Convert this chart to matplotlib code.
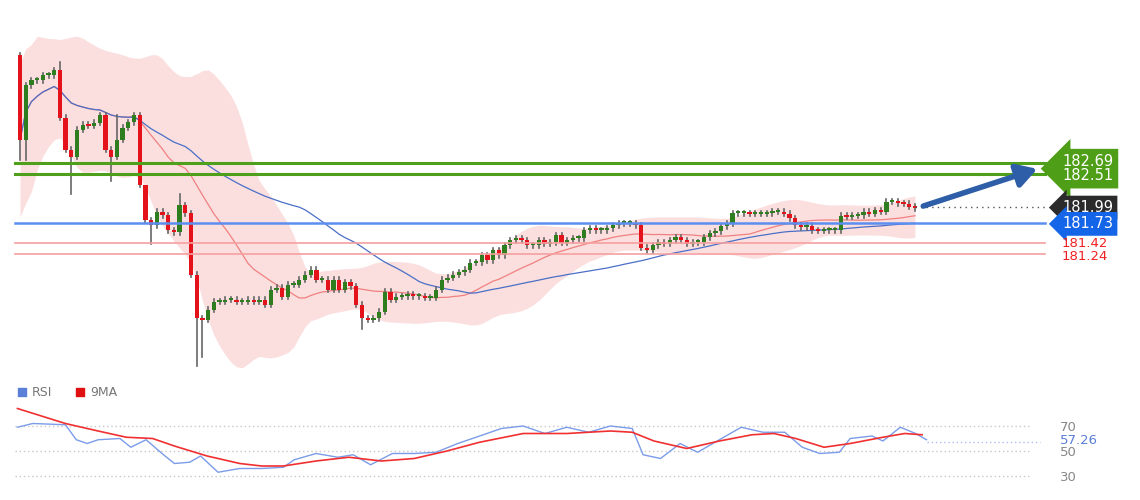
import matplotlib
matplotlib.use("Agg")
import matplotlib.pyplot as plt
import numpy as np
import pandas as pd

# candle closes (first candle opens at first_open)
first_open = 184.41
closes = [183.06, 183.93, 184.01, 184.01, 184.09, 184.09, 184.17, 183.41, 182.90, 182.79,
          183.22, 183.30, 183.28, 183.33, 183.45, 182.90, 182.79, 183.06, 183.25, 183.34,
          183.45, 182.34, 181.78, 181.70, 181.91, 181.86, 181.62, 181.59, 182.02, 181.89,
          180.91, 180.22, 180.19, 180.35, 180.48, 180.48, 180.51, 180.51, 180.48, 180.48,
          180.51, 180.48, 180.51, 180.43, 180.67, 180.70, 180.56, 180.75, 180.75, 180.83,
          180.91, 180.99, 180.83, 180.83, 180.67, 180.83, 180.67, 180.79, 180.73, 180.43,
          180.22, 180.19, 180.22, 180.32, 180.64, 180.51, 180.56, 180.57, 180.59, 180.57,
          180.57, 180.54, 180.54, 180.67, 180.83, 180.86, 180.91, 180.95, 180.99, 181.10,
          181.11, 181.22, 181.14, 181.30, 181.22, 181.38, 181.46, 181.49, 181.46, 181.38,
          181.38, 181.46, 181.40, 181.43, 181.54, 181.42, 181.46, 181.49, 181.49, 181.62,
          181.65, 181.62, 181.62, 181.65, 181.70, 181.73, 181.73, 181.73, 181.70, 181.34,
          181.30, 181.38, 181.43, 181.40, 181.46, 181.51, 181.46, 181.40, 181.43, 181.43,
          181.51, 181.57, 181.60, 181.68, 181.73, 181.89, 181.89, 181.89, 181.88, 181.88,
          181.88, 181.89, 181.91, 181.91, 181.88, 181.81, 181.70, 181.67, 181.69, 181.62,
          181.61, 181.62, 181.62, 181.62, 181.85, 181.83, 181.85, 181.86, 181.91, 181.88,
          181.94, 181.91, 182.07, 182.07, 182.05, 182.04, 181.99, 181.97]
# candles with long wicks: index -> low / high
long_lows = {0: 182.74, 1: 182.74, 9: 182.19, 16: 182.40, 23: 181.40, 28: 181.55,
             31: 179.45, 32: 179.60, 60: 180.05, 109: 181.30}
long_highs = {7: 184.30, 17: 183.45, 22: 181.95, 28: 182.20}

levels_green = [182.69, 182.51]
level_blue = 181.73
levels_red = [181.42, 181.24]
last_price = 181.99

# RSI panel lines, read at horizontal positions (in 1/2.18 pixel units)
rsi_px = [8, 15, 30, 35, 40, 45, 55, 60, 67, 75, 80, 87, 92, 100, 110, 120, 130, 135, 145,
          155, 162, 170, 180, 190, 200, 210, 220, 230, 240, 250, 260, 270, 280, 290, 295,
          303, 312, 320, 330, 340, 350, 360, 368, 376, 385, 390, 400, 405, 413, 420, 425]
rsi_vals = [69, 72, 71, 59, 56, 59, 60, 53, 59, 47, 40, 41, 46, 33, 36, 36, 37, 43, 48, 45,
            47, 39, 48, 48, 49, 56, 62, 68, 70, 64, 69, 65, 70, 68, 47, 44, 56, 49,
            59, 69, 65, 65, 53, 48, 49, 60, 62, 58, 69, 64, 59]
ma9_px = [8, 30, 45, 58, 70, 80, 95, 110, 120, 130, 145, 160, 175, 190, 205, 220, 240, 260,
          280, 290, 300, 315, 330, 345, 355, 365, 378, 390, 405, 415, 423]
ma9_vals = [84, 72, 66, 61, 60, 54, 46, 40, 38, 38, 42, 45, 42, 44, 50, 57, 64, 64, 66, 65,
            58, 52, 58, 63, 64, 60, 53, 56, 61, 64, 63]
rsi_last = 57.26

W, H = 1140, 500
fig = plt.figure(figsize=(11.4, 5.0), dpi=100)
fig.patch.set_facecolor("white")

def px_x(p):
    return (p - 20) / 5.7

# ---- main price panel
ax = fig.add_axes([0, 120 / H, 1, 380 / H])
ax.set_xlim(px_x(0), px_x(W))
ax.set_ylim(182.69 - 217 * 0.01593, 182.69 + 163 * 0.01593)
ax.axis("off")

c = np.array(closes)
o = np.concatenate([[first_open], c[:-1]])
n = len(c)
idx = np.arange(n)
s = pd.Series(c)
ma20 = s.rolling(20, min_periods=1).mean()
sd20 = s.rolling(20, min_periods=2).std().bfill()
ma50 = s.rolling(50, min_periods=1).mean()
up = (ma20 + 2 * sd20).rolling(3, min_periods=1).mean()
lo = (ma20 - 2 * sd20).rolling(3, min_periods=1).mean()
ax.fill_between(idx, lo, up, color="#fbdada", alpha=0.85, lw=0, zorder=1)
ax.plot(idx, ma20, color="#f08080", lw=0.9, zorder=2)
ax.plot(idx, ma50, color="#4a6fc7", lw=0.9, zorder=2)

for i in range(n):
    hi = long_highs.get(i, max(o[i], c[i]) + 0.04)
    lw_ = long_lows.get(i, min(o[i], c[i]) - 0.04)
    ax.plot([i, i], [lw_, hi], color="#666666", lw=1.2, zorder=3)
    col = "#2e7d1e" if c[i] >= o[i] else "#e3121b"
    h = max(abs(c[i] - o[i]), 0.03)
    ax.bar(i, h, bottom=min(o[i], c[i]), width=0.75, color=col, zorder=4)

x0, x1 = px_x(15), px_x(1045)
for lv in levels_green:
    ax.plot([x0, x1], [lv, lv], color="#4ea01a", lw=2.2, zorder=5)
ax.plot([x0, x1], [level_blue, level_blue], color="#5b8ef0", lw=1.8, zorder=5)
for lv in levels_red:
    ax.plot([x0, x1], [lv, lv], color="#f5a0a0", lw=1.2, zorder=5)
ax.plot([n - 1, x1], [last_price, last_price], color="#555555", lw=1, ls=(0, (1, 3)), zorder=5)

ax.annotate("", xy=(px_x(1040), 182.69 - 5 * 0.01593), xytext=(n, last_price),
            arrowprops=dict(arrowstyle="-|>,head_length=1.2,head_width=0.7",
                            color="#2f5ea8", lw=4), zorder=6)

lx = px_x(1062)
fs = 10.5
ax.text(lx, (182.69 + 182.51) / 2, "182.69\n182.51", color="white", fontsize=fs,
        va="center", linespacing=0.95,
        bbox=dict(boxstyle="larrow,pad=0.35", fc="#4f9e17", ec="none"), zorder=7)
ax.text(lx, last_price - 0.01, "181.99", color="white", fontsize=fs, va="center",
        bbox=dict(boxstyle="larrow,pad=0.3", fc="#2b2b2b", ec="none"), zorder=7)
ax.text(lx, level_blue - 0.01, "181.73", color="white", fontsize=fs, va="center",
        bbox=dict(boxstyle="larrow,pad=0.3", fc="#1565e8", ec="none"), zorder=7)
ax.text(lx, levels_red[0] - 0.015, f"{levels_red[0]:.2f}", color="#f02020", fontsize=9.5,
        va="center", zorder=7)
ax.text(lx, levels_red[1] - 0.035, f"{levels_red[1]:.2f}", color="#f02020", fontsize=9.5,
        va="center", zorder=7)

# ---- RSI panel
rx = fig.add_axes([0, 0, 1, 120 / H])
rx.set_xlim(0, W)
rx.set_ylim(70 - 74 / 1.25, 70 + 46 / 1.25)
rx.axis("off")
sx = 2.18
for lv in [70, 50, 30]:
    rx.plot([15, 1030], [lv, lv], color="#c8c8c8", lw=1, ls=(0, (1, 2)))
    rx.text(1060, lv - 1, str(lv), color="#888888", fontsize=9.5, va="center")
rx.plot(np.array(rsi_px) * sx, rsi_vals, color="#7b9ce8", lw=1)
rx.plot(np.array(ma9_px) * sx, ma9_vals, color="#f03030", lw=1.2)
rx.plot([rsi_px[-1] * sx, 1040], [rsi_last, rsi_last], color="#a8bff0", lw=1, ls=(0, (1, 2)))
rx.text(1060, rsi_last + 1, f"{rsi_last:.2f}", color="#5a7fd8", fontsize=9.5, va="center")
rx.scatter([22], [97], marker="s", s=40, color="#5a7fd8")
rx.text(32, 97, "RSI", color="#777777", fontsize=9, va="center")
rx.scatter([80], [97], marker="s", s=40, color="#e01010")
rx.text(90, 97, "9MA", color="#777777", fontsize=9, va="center")

fig.savefig("out.png", dpi=100, facecolor="white")
